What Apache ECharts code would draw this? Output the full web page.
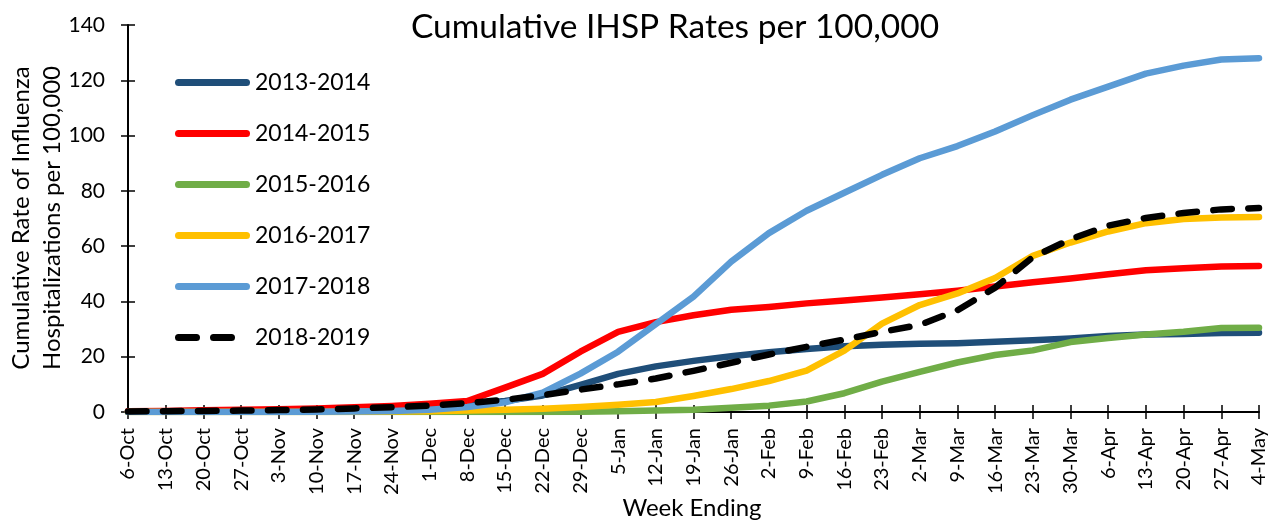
<!DOCTYPE html>
<html><head><meta charset="utf-8">
<script src="https://cdn.jsdelivr.net/npm/echarts@6/dist/echarts.min.js"></script>
<style>html,body{margin:0;padding:0;background:#fff}#c{width:1285px;height:522px}</style>
</head><body><div id="c"></div>
<script>
const weeks = ["6-Oct","13-Oct","20-Oct","27-Oct","3-Nov","10-Nov","17-Nov","24-Nov","1-Dec","8-Dec","15-Dec","22-Dec","29-Dec","5-Jan","12-Jan","19-Jan","26-Jan","2-Feb","9-Feb","16-Feb","23-Feb","2-Mar","9-Mar","16-Mar","23-Mar","30-Mar","6-Apr","13-Apr","20-Apr","27-Apr","4-May"];
const s2013 = [0.2,0.3,0.4,0.5,0.6,0.8,1.0,1.4,2.0,2.8,4.0,6.0,9.8,13.8,16.5,18.5,20.2,21.6,22.8,23.8,24.3,24.7,24.9,25.4,26.0,26.6,27.5,28.0,28.2,28.6,28.7];
const s2014 = [0.3,0.4,0.6,0.8,1.0,1.3,1.7,2.2,3.0,4.0,8.8,13.8,21.8,29.0,32.5,35.0,37.0,38.0,39.3,40.3,41.4,42.6,43.9,45.4,46.9,48.3,49.8,51.3,52.0,52.6,52.8];
const s2015 = [0,0,0,0,0,0,0,0,0,0,0,0,0.1,0.3,0.5,0.8,1.5,2.3,3.8,6.8,11.0,14.5,17.9,20.6,22.3,25.3,26.8,28.0,29.0,30.4,30.5];
const s2016 = [0,0,0,0,0,0,0.1,0.2,0.3,0.5,0.8,1.2,1.8,2.6,3.6,5.8,8.3,11.2,15.0,22.2,32.0,38.7,42.9,48.5,56.5,61.3,65.3,68.3,69.8,70.4,70.5];
const s2017 = [0,0,0,0,0,0.1,0.2,0.4,0.8,1.8,3.5,7.0,13.9,21.8,31.8,41.7,54.4,64.7,72.8,79.3,85.8,91.8,96.2,101.5,107.4,113.0,117.7,122.4,125.3,127.5,128.0];
const s2018 = [0.2,0.3,0.4,0.5,0.7,0.9,1.3,1.7,2.3,3.2,4.4,6.1,8.1,10.0,12.1,14.9,17.8,20.8,23.6,26.2,29.0,31.5,36.8,45.0,56.0,62.5,67.4,70.2,72.0,73.3,73.8];
const seriesNames = ["2013-2014","2014-2015","2015-2016","2016-2017","2017-2018","2018-2019"];
const seriesColors = ["#1f4e79","#ff0000","#70ad47","#ffc000","#5b9bd5","#000000"];
const xAxisTitle = 'Week Ending';
const yAxisTitle = 'Cumulative Rate of Influenza\nHospitalizations per 100,000';

const FONT = "Lato, 'Open Sans', sans-serif";
const data = [s2013,s2014,s2015,s2016,s2017,s2018];
const LW = 6.5;
const series = data.map((d,i)=>({
  name: seriesNames[i], type:'line', data:d, symbol:'none', smooth:false,
  xAxisIndex:0, yAxisIndex:0,
  lineStyle:{color:seriesColors[i], width:LW, cap:'round', join:'round',
    type: i===5 ? [18.5,16.5] : 'solid'},
  itemStyle:{color:seriesColors[i]},
  z: 2+i
}));
const solidIcon = 'path://M3.5,0H71.5A3.5,3.5,0,0,1,71.5,7H3.5A3.5,3.5,0,0,1,3.5,0Z';
const dashIcon = 'path://M3.5,0H21.5A3.5,3.5,0,0,1,21.5,7H3.5A3.5,3.5,0,0,1,3.5,0Z M38.5,0H56.5A3.5,3.5,0,0,1,56.5,7H38.5A3.5,3.5,0,0,1,38.5,0Z M75,3.5Z';
const chart = echarts.init(document.getElementById('c'));
chart.setOption({
  animation:false,
  textStyle:{fontFamily:FONT},
  title:{text:'Cumulative IHSP Rates per 100,000', left:670, textAlign:'center', top:5,
    textStyle:{fontFamily:FONT, fontSize:33.5, fontWeight:'normal', color:'#000'}},
  legend:{orient:'vertical', left:175, top:71, padding:0, itemWidth:75, itemHeight:7, itemGap:28,
    symbolKeepAspect:false,
    textStyle:{fontFamily:FONT, fontSize:23, color:'#000'},
    data: seriesNames.map((n,i)=>({name:n, icon: i===5 ? dashIcon : solidIcon}))},
  graphic:[
    {type:'text', x:692, y:508, z:10,
      style:{text:xAxisTitle, fontFamily:FONT, fontSize:24, fill:'#000', align:'center', verticalAlign:'middle'}},
    {type:'text', x:37, y:218, rotation:Math.PI/2, z:10,
      style:{text:yAxisTitle, fontFamily:FONT, fontSize:24, lineHeight:31, fill:'#000', align:'center', verticalAlign:'middle'}}
  ],
  grid:{left:128, right:26, top:25, bottom:110, containLabel:false, outerBoundsMode:'none'},
  xAxis:[{type:'category', data:weeks, boundaryGap:false,
    axisLine:{lineStyle:{color:'#000', width:2}},
    axisTick:{interval:0, length:7, lineStyle:{color:'#000', width:1.5}},
    axisLabel:{interval:0, rotate:90, fontFamily:FONT, fontSize:20, color:'#000', margin:16}},
   {type:'category', data:weeks, boundaryGap:false, position:'bottom',
    axisLine:{show:false}, axisLabel:{show:false},
    axisTick:{inside:true, interval:0, length:7, lineStyle:{color:'#000', width:1.5}}}],
  yAxis:[{type:'value', min:0, max:140, interval:20,
    splitLine:{show:false},
    axisLine:{show:true, lineStyle:{color:'#000', width:2}},
    axisTick:{show:true, length:7, lineStyle:{color:'#000', width:1.5}},
    axisLabel:{fontFamily:FONT, fontSize:21, color:'#000', margin:23}},
   {type:'value', min:0, max:140, interval:20, position:'left',
    splitLine:{show:false}, axisLine:{show:false}, axisLabel:{show:false},
    axisTick:{show:true, inside:true, length:7, lineStyle:{color:'#000', width:1.5}}}],
  series: series
});
</script></body></html>
